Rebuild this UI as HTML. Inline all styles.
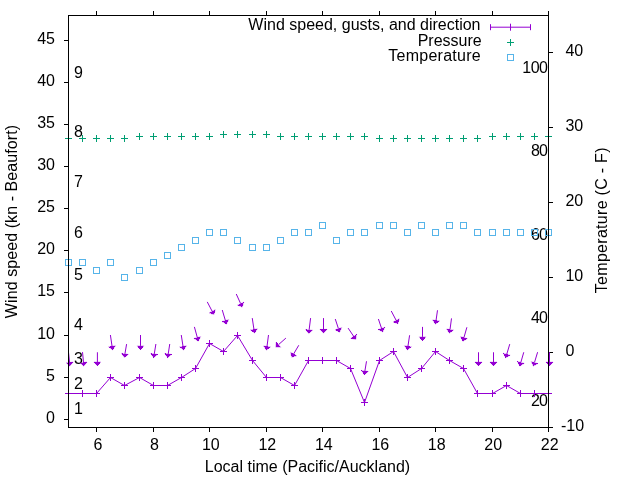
<!DOCTYPE html>
<html><head><meta charset="utf-8"><title>Wind</title>
<style>html,body{margin:0;padding:0;background:#fff;}svg{display:block;will-change:transform;}text{font-family:"Liberation Sans",sans-serif;font-size:16px;fill:#000;}</style>
</head><body>
<svg width="640" height="480" viewBox="0 0 640 480">
<rect width="640" height="480" fill="#fff"/>
<path d="M68.5 419.5H64M68.5 377.5H64M68.5 335.5H64M68.5 292.5H64M68.5 250.5H64M68.5 208.5H64M68.5 166.5H64M68.5 124.5H64M68.5 82.5H64M68.5 40.5H64M96.5 427.5V432M96.5 15.5V11M153.5 427.5V432M153.5 15.5V11M209.5 427.5V432M209.5 15.5V11M266.5 427.5V432M266.5 15.5V11M322.5 427.5V432M322.5 15.5V11M379.5 427.5V432M379.5 15.5V11M435.5 427.5V432M435.5 15.5V11M492.5 427.5V432M492.5 15.5V11M548.5 427.5V432M548.5 15.5V11M548.5 427.5H553M548.5 352.5H553M548.5 277.5H553M548.5 202.5H553M548.5 127.5H553M548.5 52.5H553" stroke="#000" stroke-width="1" fill="none"/>
<text x="55" y="423" text-anchor="end">0</text>
<text x="55" y="381" text-anchor="end">5</text>
<text x="55" y="339" text-anchor="end">10</text>
<text x="55" y="296" text-anchor="end">15</text>
<text x="55" y="254" text-anchor="end">20</text>
<text x="55" y="212" text-anchor="end">25</text>
<text x="55" y="170" text-anchor="end">30</text>
<text x="55" y="128" text-anchor="end">35</text>
<text x="55" y="86" text-anchor="end">40</text>
<text x="55" y="44" text-anchor="end">45</text>
<text x="97.94" y="450" text-anchor="middle">6</text>
<text x="154.41" y="450" text-anchor="middle">8</text>
<text x="210.88" y="450" text-anchor="middle">10</text>
<text x="267.35" y="450" text-anchor="middle">12</text>
<text x="323.82" y="450" text-anchor="middle">14</text>
<text x="380.29" y="450" text-anchor="middle">16</text>
<text x="436.76" y="450" text-anchor="middle">18</text>
<text x="493.23" y="450" text-anchor="middle">20</text>
<text x="549.7" y="450" text-anchor="middle">22</text>
<text x="561" y="431" xml:space="preserve">-10</text>
<text x="561" y="356.09" xml:space="preserve"> 0</text>
<text x="561" y="281.18" xml:space="preserve"> 10</text>
<text x="561" y="206.27" xml:space="preserve"> 20</text>
<text x="561" y="131.36" xml:space="preserve"> 30</text>
<text x="561" y="56.45" xml:space="preserve"> 40</text>
<text x="74" y="414.18">1</text>
<text x="74" y="388.96">2</text>
<text x="74" y="363.73">3</text>
<text x="74" y="330.1">4</text>
<text x="74" y="279.65">5</text>
<text x="74" y="237.61">6</text>
<text x="74" y="187.16">7</text>
<text x="74" y="136.71">8</text>
<text x="74" y="77.86">9</text>
<text x="547.1" y="406.03" text-anchor="end" letter-spacing="-0.9">20</text>
<text x="547.1" y="322.8" text-anchor="end" letter-spacing="-0.9">40</text>
<text x="547.1" y="239.57" text-anchor="end" letter-spacing="-0.9">60</text>
<text x="547.1" y="156.33" text-anchor="end" letter-spacing="-0.9">80</text>
<text x="547.55" y="73.1" text-anchor="end" letter-spacing="-0.45">100</text>
<text x="307.5" y="471.5" text-anchor="middle">Local time (Pacific/Auckland)</text>
<text transform="translate(16.5 221.5) rotate(-90)" text-anchor="middle" letter-spacing="0.08">Wind speed (kn - Beaufort)</text>
<text transform="translate(607 220.2) rotate(-90)" text-anchor="middle" letter-spacing="0.29">Temperature (C - F)</text>
<text x="480.5" y="30.3" text-anchor="end">Wind speed, gusts, and direction</text>
<text x="481.7" y="45.6" text-anchor="end">Pressure</text>
<text x="481" y="61" text-anchor="end" letter-spacing="0.27">Temperature</text>
<path d="M490.5 27.2H530.5M490.5 24.2V30.2M530.5 24.2V30.2M510.5 23.7V30.7" stroke="#9400d3" stroke-width="1" fill="none"/>
<path d="M507 42.5H514M510.5 39V46" stroke="#009e73" stroke-width="1" fill="none"/>
<rect x="507.5" y="54.5" width="6" height="6" stroke="#56b4e9" stroke-width="1" fill="none"/>
<path d="M68.5 393.5L82.5 393.5L96.5 393.5L110.5 377.5L124.5 385.5L139.5 377.5L153.5 385.5L167.5 385.5L181.5 377.5L195.5 368.5L209.5 343.5L223.5 351.5L237.5 335.5L252.5 360.5L266.5 377.5L280.5 377.5L294.5 385.5L308.5 360.5L322.5 360.5L336.5 360.5L350.5 368.5L364.5 402.5L379.5 360.5L393.5 351.5L407.5 377.5L421.5 368.5L435.5 351.5L449.5 360.5L463.5 368.5L477.5 393.5L492.5 393.5L506.5 385.5L520.5 393.5L534.5 393.5L548.5 393.5" stroke="#9400d3" stroke-width="1" fill="none" stroke-linejoin="round"/>
<path d="M65 393.5h7M68.5 390v7M79 393.5h7M82.5 390v7M93 393.5h7M96.5 390v7M107 377.5h7M110.5 374v7M121 385.5h7M124.5 382v7M136 377.5h7M139.5 374v7M150 385.5h7M153.5 382v7M164 385.5h7M167.5 382v7M178 377.5h7M181.5 374v7M192 368.5h7M195.5 365v7M206 343.5h7M209.5 340v7M220 351.5h7M223.5 348v7M234 335.5h7M237.5 332v7M249 360.5h7M252.5 357v7M263 377.5h7M266.5 374v7M277 377.5h7M280.5 374v7M291 385.5h7M294.5 382v7M305 360.5h7M308.5 357v7M319 360.5h7M322.5 357v7M333 360.5h7M336.5 357v7M347 368.5h7M350.5 365v7M361 402.5h7M364.5 399v7M376 360.5h7M379.5 357v7M390 351.5h7M393.5 348v7M404 377.5h7M407.5 374v7M418 368.5h7M421.5 365v7M432 351.5h7M435.5 348v7M446 360.5h7M449.5 357v7M460 368.5h7M463.5 365v7M474 393.5h7M477.5 390v7M489 393.5h7M492.5 390v7M503 385.5h7M506.5 382v7M517 393.5h7M520.5 390v7M531 393.5h7M534.5 390v7M545 393.5h7M548.5 390v7" stroke="#9400d3" stroke-width="1" fill="none"/>
<path d="M68.5 352.25L69.57 362.41M82.5 352.1L83.5 362.41M97.4 352.25L97.4 362M110.4 335L112.05 346.23M126.6 344.1L124.93 353.84M140.5 335L140.5 345.9M155.9 344L154.26 353.94M169.75 344L168.22 353.93M181.25 335L183.02 346.33M194.4 326.9L197.31 337.5M207.25 301.9L212.17 311.29M222.25 310L225.39 320.52M236.25 294L240.65 303.67M252.25 318.1L253.94 329.33M268.5 335L267 346.42M285.9 338.1L278.54 344.64M298.75 345.25L293.62 353.97M310.6 318.1L309.13 329.82M323.5 318.1L323.5 329.4M335.25 319L338.45 328.65M348.1 328.1L353.69 336.38M366.5 361.25L364.9 370.94M378.4 319L381.55 328.4M391.25 311L396.17 320.39M409.6 335.25L407.96 346.23M422.5 326.9L422.5 336.9M437.5 310.25L436.04 320.43M451.5 318.4L450.01 329.52M466.9 327.25L463.93 337.61M478.5 352.25L478.5 362.1M493.5 352.25L493.5 362.1M509.75 344.1L506.75 354.22M523.75 352.25L520.83 362.41M537.6 352.2L534.47 362.53M549.5 352.2L549.5 362.1" stroke="#9400d3" stroke-width="1" fill="none"/>
<path d="M66.05 362.79L69.97 366.2L73.1 362.04ZM79.97 362.75L83.87 366.2L87.03 362.07ZM93.85 362L97.4 365.8L100.95 362ZM108.54 346.75L112.6 349.99L115.56 345.71ZM121.43 353.24L124.28 357.59L128.42 354.44ZM136.95 345.9L140.5 349.7L144.05 345.9ZM150.76 353.36L153.64 357.69L157.76 354.52ZM164.72 353.39L167.64 357.69L171.73 354.47ZM179.52 346.88L183.61 350.09L186.52 345.79ZM193.89 338.44L198.31 341.17L200.73 336.57ZM209.03 312.93L213.94 314.65L215.31 309.64ZM221.99 321.54L226.48 324.17L228.79 319.51ZM237.43 305.14L242.23 307.13L243.88 302.2ZM250.43 329.86L254.5 333.09L257.45 328.8ZM263.49 345.96L266.51 350.19L270.52 346.88ZM276.19 341.99L275.7 347.17L280.9 347.29ZM290.57 352.17L291.7 357.24L296.68 355.76ZM305.62 329.38L308.66 333.59L312.65 330.26ZM319.95 329.4L323.5 333.2L327.05 329.4ZM335.09 329.77L339.65 332.26L341.82 327.53ZM350.76 338.37L355.82 339.53L356.63 334.39ZM361.41 370.36L364.29 374.69L368.4 371.51ZM378.18 329.53L382.75 332.01L384.91 327.28ZM393.03 322.03L397.94 323.75L399.31 318.74ZM404.45 345.71L407.4 349.99L411.47 346.76ZM418.95 336.9L422.5 340.7L426.05 336.9ZM432.53 319.92L435.5 324.19L439.55 320.93ZM446.5 329.05L449.51 333.29L453.53 329.99ZM460.52 336.64L462.88 341.27L467.34 338.59ZM474.95 362.1L478.5 365.9L482.05 362.1ZM489.95 362.1L493.5 365.9L497.05 362.1ZM503.35 353.21L505.67 357.87L510.15 355.23ZM517.42 361.43L519.78 366.07L524.24 363.39ZM531.08 361.5L533.37 366.17L537.86 363.55ZM545.95 362.1L549.5 365.9L553.05 362.1Z" fill="#9400d3" stroke="none" shape-rendering="crispEdges"/>
<path d="M66.05 362.79L69.97 366.2L73.1 362.04ZM79.97 362.75L83.87 366.2L87.03 362.07ZM93.85 362L97.4 365.8L100.95 362ZM108.54 346.75L112.6 349.99L115.56 345.71ZM121.43 353.24L124.28 357.59L128.42 354.44ZM136.95 345.9L140.5 349.7L144.05 345.9ZM150.76 353.36L153.64 357.69L157.76 354.52ZM164.72 353.39L167.64 357.69L171.73 354.47ZM179.52 346.88L183.61 350.09L186.52 345.79ZM193.89 338.44L198.31 341.17L200.73 336.57ZM209.03 312.93L213.94 314.65L215.31 309.64ZM221.99 321.54L226.48 324.17L228.79 319.51ZM237.43 305.14L242.23 307.13L243.88 302.2ZM250.43 329.86L254.5 333.09L257.45 328.8ZM263.49 345.96L266.51 350.19L270.52 346.88ZM276.19 341.99L275.7 347.17L280.9 347.29ZM290.57 352.17L291.7 357.24L296.68 355.76ZM305.62 329.38L308.66 333.59L312.65 330.26ZM319.95 329.4L323.5 333.2L327.05 329.4ZM335.09 329.77L339.65 332.26L341.82 327.53ZM350.76 338.37L355.82 339.53L356.63 334.39ZM361.41 370.36L364.29 374.69L368.4 371.51ZM378.18 329.53L382.75 332.01L384.91 327.28ZM393.03 322.03L397.94 323.75L399.31 318.74ZM404.45 345.71L407.4 349.99L411.47 346.76ZM418.95 336.9L422.5 340.7L426.05 336.9ZM432.53 319.92L435.5 324.19L439.55 320.93ZM446.5 329.05L449.51 333.29L453.53 329.99ZM460.52 336.64L462.88 341.27L467.34 338.59ZM474.95 362.1L478.5 365.9L482.05 362.1ZM489.95 362.1L493.5 365.9L497.05 362.1ZM503.35 353.21L505.67 357.87L510.15 355.23ZM517.42 361.43L519.78 366.07L524.24 363.39ZM531.08 361.5L533.37 366.17L537.86 363.55ZM545.95 362.1L549.5 365.9L553.05 362.1Z" stroke="#9400d3" stroke-width="0.3" fill="none" stroke-linejoin="miter" stroke-miterlimit="3.8"/>
<path d="M65 138.5h7M68.5 135v7M79 138.5h7M82.5 135v7M93 138.5h7M96.5 135v7M107 138.5h7M110.5 135v7M121 138.5h7M124.5 135v7M136 136.5h7M139.5 133v7M150 136.5h7M153.5 133v7M164 136.5h7M167.5 133v7M178 136.5h7M181.5 133v7M192 136.5h7M195.5 133v7M206 136.5h7M209.5 133v7M220 134.5h7M223.5 131v7M234 134.5h7M237.5 131v7M249 134.5h7M252.5 131v7M263 134.5h7M266.5 131v7M277 136.5h7M280.5 133v7M291 136.5h7M294.5 133v7M305 136.5h7M308.5 133v7M319 136.5h7M322.5 133v7M333 136.5h7M336.5 133v7M347 136.5h7M350.5 133v7M361 136.5h7M364.5 133v7M376 138.5h7M379.5 135v7M390 138.5h7M393.5 135v7M404 138.5h7M407.5 135v7M418 138.5h7M421.5 135v7M432 138.5h7M435.5 135v7M446 138.5h7M449.5 135v7M460 138.5h7M463.5 135v7M474 138.5h7M477.5 135v7M489 136.5h7M492.5 133v7M503 136.5h7M506.5 133v7M517 136.5h7M520.5 133v7M531 136.5h7M534.5 133v7M545 136.5h7M548.5 133v7" stroke="#009e73" stroke-width="1" fill="none"/>
<rect x="65.5" y="259.5" width="6" height="6" stroke="#56b4e9" stroke-width="1" fill="none"/>
<rect x="79.5" y="259.5" width="6" height="6" stroke="#56b4e9" stroke-width="1" fill="none"/>
<rect x="93.5" y="267.5" width="6" height="6" stroke="#56b4e9" stroke-width="1" fill="none"/>
<rect x="107.5" y="259.5" width="6" height="6" stroke="#56b4e9" stroke-width="1" fill="none"/>
<rect x="121.5" y="274.5" width="6" height="6" stroke="#56b4e9" stroke-width="1" fill="none"/>
<rect x="136.5" y="267.5" width="6" height="6" stroke="#56b4e9" stroke-width="1" fill="none"/>
<rect x="150.5" y="259.5" width="6" height="6" stroke="#56b4e9" stroke-width="1" fill="none"/>
<rect x="164.5" y="252.5" width="6" height="6" stroke="#56b4e9" stroke-width="1" fill="none"/>
<rect x="178.5" y="244.5" width="6" height="6" stroke="#56b4e9" stroke-width="1" fill="none"/>
<rect x="192.5" y="237.5" width="6" height="6" stroke="#56b4e9" stroke-width="1" fill="none"/>
<rect x="206.5" y="229.5" width="6" height="6" stroke="#56b4e9" stroke-width="1" fill="none"/>
<rect x="220.5" y="229.5" width="6" height="6" stroke="#56b4e9" stroke-width="1" fill="none"/>
<rect x="234.5" y="237.5" width="6" height="6" stroke="#56b4e9" stroke-width="1" fill="none"/>
<rect x="249.5" y="244.5" width="6" height="6" stroke="#56b4e9" stroke-width="1" fill="none"/>
<rect x="263.5" y="244.5" width="6" height="6" stroke="#56b4e9" stroke-width="1" fill="none"/>
<rect x="277.5" y="237.5" width="6" height="6" stroke="#56b4e9" stroke-width="1" fill="none"/>
<rect x="291.5" y="229.5" width="6" height="6" stroke="#56b4e9" stroke-width="1" fill="none"/>
<rect x="305.5" y="229.5" width="6" height="6" stroke="#56b4e9" stroke-width="1" fill="none"/>
<rect x="319.5" y="222.5" width="6" height="6" stroke="#56b4e9" stroke-width="1" fill="none"/>
<rect x="333.5" y="237.5" width="6" height="6" stroke="#56b4e9" stroke-width="1" fill="none"/>
<rect x="347.5" y="229.5" width="6" height="6" stroke="#56b4e9" stroke-width="1" fill="none"/>
<rect x="361.5" y="229.5" width="6" height="6" stroke="#56b4e9" stroke-width="1" fill="none"/>
<rect x="376.5" y="222.5" width="6" height="6" stroke="#56b4e9" stroke-width="1" fill="none"/>
<rect x="390.5" y="222.5" width="6" height="6" stroke="#56b4e9" stroke-width="1" fill="none"/>
<rect x="404.5" y="229.5" width="6" height="6" stroke="#56b4e9" stroke-width="1" fill="none"/>
<rect x="418.5" y="222.5" width="6" height="6" stroke="#56b4e9" stroke-width="1" fill="none"/>
<rect x="432.5" y="229.5" width="6" height="6" stroke="#56b4e9" stroke-width="1" fill="none"/>
<rect x="446.5" y="222.5" width="6" height="6" stroke="#56b4e9" stroke-width="1" fill="none"/>
<rect x="460.5" y="222.5" width="6" height="6" stroke="#56b4e9" stroke-width="1" fill="none"/>
<rect x="474.5" y="229.5" width="6" height="6" stroke="#56b4e9" stroke-width="1" fill="none"/>
<rect x="489.5" y="229.5" width="6" height="6" stroke="#56b4e9" stroke-width="1" fill="none"/>
<rect x="503.5" y="229.5" width="6" height="6" stroke="#56b4e9" stroke-width="1" fill="none"/>
<rect x="517.5" y="229.5" width="6" height="6" stroke="#56b4e9" stroke-width="1" fill="none"/>
<rect x="531.5" y="229.5" width="6" height="6" stroke="#56b4e9" stroke-width="1" fill="none"/>
<rect x="545.5" y="229.5" width="6" height="6" stroke="#56b4e9" stroke-width="1" fill="none"/>
<rect x="68.5" y="15.5" width="480" height="412" stroke="#000" stroke-width="1" fill="none"/>
</svg>
</body></html>
